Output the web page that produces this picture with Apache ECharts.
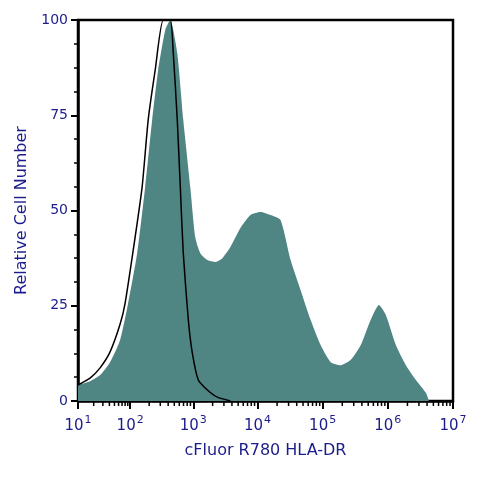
<!DOCTYPE html><html><head><meta charset="utf-8">
<script src="https://cdn.jsdelivr.net/npm/echarts@6/dist/echarts.min.js"></script>
<style>html,body{margin:0;background:#fff}#c{width:480px;height:480px}</style></head><body><div id="c"></div>
<script>
const filledX=[1.0,1.231,1.423,1.615,1.808,1.962,2.111,2.238,2.349,2.444,2.556,2.635,2.746,2.841,2.952,3.031,3.109,3.219,3.344,3.453,3.578,3.734,3.891,4.046,4.200,4.354,4.508,4.662,4.815,4.969,5.123,5.277,5.431,5.585,5.738,5.862,5.969,6.123,6.277,6.431,6.585,6.631];
const filledY=[4.2,5.2,6.8,10.2,16.0,25.7,38.8,56.2,73.8,86.9,97.4,100,91.3,73.8,56.2,43.0,38.8,37.0,36.5,37.5,40.4,45.4,48.8,49.6,48.8,47.5,37,29.1,21.3,14.7,10.2,9.4,10.8,14.7,21.3,25.2,22.6,14.7,9.4,5.5,2.1,0];
const outlineX=[1.0,1.231,1.423,1.615,1.808,1.904,2.079,2.190,2.286,2.397,2.524,2.635,2.683,2.746,2.794,2.841,2.921,2.984,3.078,3.219,3.375,3.578];
const outlineY=[4.2,6.0,8.7,12.9,20.2,25.7,43.0,56.2,73.8,86.9,100,100,91.3,73.8,56.2,38.8,21.3,12.6,5.5,2.9,1.0,0];
const xTickLabels=['1','2','3','4','5','6','7'];
// display position of each decade (first decade drawn narrower, as in the reference)
const decadePos=[0,52,115,179,244,309,374];
function toDisp(l){let d=Math.min(Math.floor(l),6);if(d<1)d=1;const i=d-1;return decadePos[i]+(l-d)*(decadePos[i+1]-decadePos[i]);}
const minorX=[];for(let d=1;d<7;d++)for(let m=2;m<=9;m++)minorX.push(toDisp(d+Math.log10(m)));
const navy='#1c1c8c';
const chart=echarts.init(document.getElementById('c'));
chart.setOption({animation:false,
grid:{left:78,right:27,top:20,bottom:79,show:true,borderColor:'#000',borderWidth:2.5},
xAxis:{type:'value',min:0,max:374,name:'cFluor R780 HLA-DR',nameLocation:'middle',nameGap:42,
 nameTextStyle:{color:navy,fontSize:16,fontFamily:'DejaVu Sans'},
 axisLine:{lineStyle:{color:'#000',width:2.5}},axisTick:{length:8,customValues:decadePos,lineStyle:{color:'#000',width:2}},
 splitLine:{show:false},
 axisLabel:{customValues:decadePos,color:navy,margin:14,fontFamily:'DejaVu Sans',formatter:v=>'{b|10}{s|'+xTickLabels[decadePos.indexOf(v)]+'}',
  rich:{b:{fontSize:15,color:navy,fontFamily:'DejaVu Sans'},s:{fontSize:11,color:navy,verticalAlign:'top',padding:[0,0,12,1],fontFamily:'DejaVu Sans'}}}},
yAxis:{type:'value',min:0,max:100,interval:25,name:'Relative Cell Number',nameLocation:'middle',nameGap:48,
 nameTextStyle:{color:navy,fontSize:16,fontFamily:'DejaVu Sans'},
 axisLine:{show:true,lineStyle:{color:'#000',width:2.5}},axisTick:{length:7,lineStyle:{color:'#000',width:2}},
 minorTick:{show:true,splitNumber:4,length:4,lineStyle:{color:'#000',width:1.5}},
 splitLine:{show:false},axisLabel:{color:navy,fontSize:14,fontFamily:'DejaVu Sans',margin:10}},
series:[
 {type:'line',data:filledX.map((x,i)=>[toDisp(x),filledY[i]]),smooth:0.2,symbol:'none',lineStyle:{width:0},areaStyle:{color:'#4f8582',opacity:1}},
 {type:'line',data:outlineX.map((x,i)=>[toDisp(x),outlineY[i]]),smooth:0.2,symbol:'none',lineStyle:{color:'#000',width:1.5}},
 {type:'custom',silent:true,data:minorX.map(x=>[x,0]),renderItem:(p,api)=>{const pt=api.coord([api.value(0),0]);
   return {type:'line',shape:{x1:pt[0],y1:pt[1],x2:pt[0],y2:pt[1]+5},style:{stroke:'#000',lineWidth:1.5}};}}
]});
</script></body></html>
